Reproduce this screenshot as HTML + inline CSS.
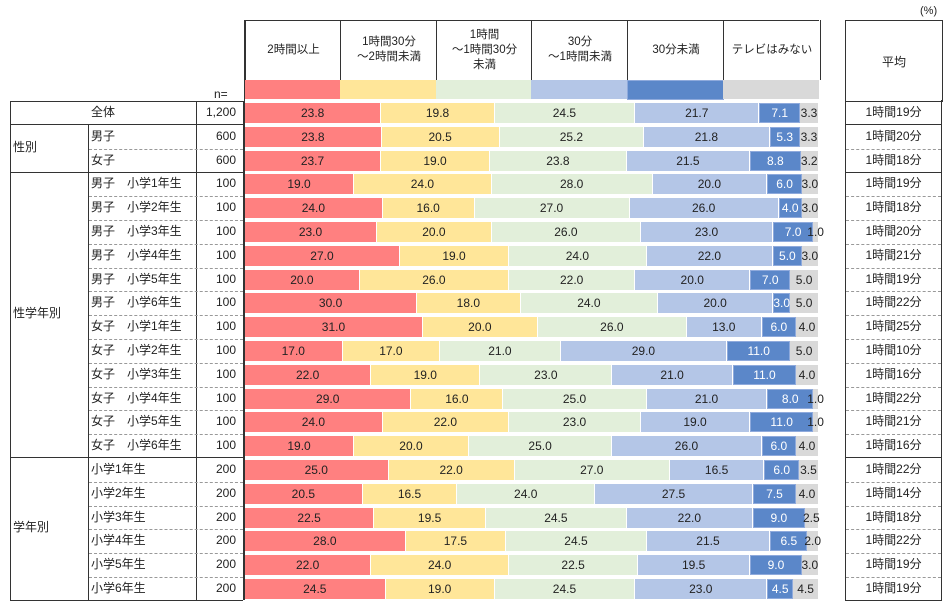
<!DOCTYPE html>
<html><head><meta charset="utf-8"><style>
body{margin:0;width:949px;height:608px;background:#fff;position:relative;font-family:"Liberation Sans","Noto Sans CJK JP",sans-serif;font-size:12px;color:#222;overflow:hidden}
.a{position:absolute}
.h{position:absolute;top:20px;height:60px;border-left:1px solid #333;display:flex;align-items:center;justify-content:center;text-align:center;line-height:15px;font-size:11.5px}
.bar{position:absolute;left:245px;width:574px;height:20px;display:flex}
.bar div{box-sizing:border-box;border-right:1px solid #fff;display:flex;align-items:center;justify-content:center;font-size:12px;white-space:nowrap;overflow:visible}
.r{background:#ff8080}.y{background:#ffe699}.g{background:#e2efda}.lb{background:#b4c6e7}.b{background:#5b87c9;color:#fff;border:1px solid #8faadc!important}.gr{background:#d9d9d9}
.line{position:absolute;height:0;border-top:1px solid #333}
.dl{position:absolute;height:0;border-top:1px dashed #999}
.vl{position:absolute;width:0;border-left:1px solid #333}
.t{position:absolute;height:23.8px;line-height:23.8px}
</style></head><body>
<div class="a" style="left:920px;top:5px;font-size:11px">(%)</div>
<div class="line" style="left:245px;top:20px;width:574px"></div>
<div class="h" style="left:245px;width:95px">2時間以上</div>
<div class="h" style="left:340px;width:96px">1時間30分<br>～2時間未満</div>
<div class="h" style="left:436px;width:95px">1時間<br>～1時間30分<br>未満</div>
<div class="h" style="left:531px;width:96px">30分<br>～1時間未満</div>
<div class="h" style="left:627px;width:96px">30分未満</div>
<div class="h" style="left:723px;width:96px;border-right:1px solid #333">テレビはみない</div>
<div class="a r" style="left:245px;top:80px;width:95px;height:19px"></div>
<div class="a y" style="left:340px;top:80px;width:96px;height:19px"></div>
<div class="a g" style="left:436px;top:80px;width:95px;height:19px"></div>
<div class="a lb" style="left:531px;top:80px;width:96px;height:19px"></div>
<div class="a" style="left:627px;top:80px;width:95px;height:18px;background:#5b87c9;border:1px solid #8faadc"></div>
<div class="a gr" style="left:723px;top:80px;width:96px;height:19px"></div>
<div class="a" style="left:214px;top:87px">n=</div>
<div class="a" style="left:845px;top:20px;width:96px;height:80px;border:1px solid #333;display:flex;align-items:center;justify-content:center">平均</div>
<div class="line" style="left:10px;top:101px;width:233px"></div>
<div class="line" style="left:10px;top:124px;width:233px"></div>
<div class="line" style="left:10px;top:172px;width:233px"></div>
<div class="line" style="left:10px;top:457px;width:233px"></div>
<div class="line" style="left:10px;top:600px;width:233px"></div>
<div class="vl" style="left:10px;top:101px;height:499px"></div>
<div class="vl" style="left:88px;top:124px;height:476px"></div>
<div class="vl" style="left:196px;top:101px;height:499px"></div>
<div class="vl" style="left:243px;top:101px;height:499px"></div>
<div class="vl" style="left:244px;top:20px;height:580px"></div>
<div class="line" style="left:845px;top:124px;width:97px"></div>
<div class="line" style="left:845px;top:172px;width:97px"></div>
<div class="line" style="left:845px;top:457px;width:97px"></div>
<div class="line" style="left:845px;top:600px;width:97px"></div>
<div class="vl" style="left:845px;top:100px;height:500px"></div>
<div class="vl" style="left:941px;top:100px;height:500px"></div>
<div class="t" style="left:10px;top:101px;width:186px;text-align:center">全体</div>
<div class="t" style="left:13px;top:136px">性別</div>
<div class="t" style="left:13px;top:302px">性学年別</div>
<div class="t" style="left:13px;top:516px">学年別</div>

<div id="rows"></div>
<script>
var d=[
["全体","1,200",[23.8,19.8,24.5,21.7,7.1,3.3],"1時間19分"],
["男子","600",[23.8,20.5,25.2,21.8,5.3,3.3],"1時間20分"],
["女子","600",[23.7,19.0,23.8,21.5,8.8,3.2],"1時間18分"],
["男子　小学1年生","100",[19,24,28,20,6,3],"1時間19分"],
["男子　小学2年生","100",[24,16,27,26,4,3],"1時間18分"],
["男子　小学3年生","100",[23,20,26,23,7,1],"1時間20分"],
["男子　小学4年生","100",[27,19,24,22,5,3],"1時間21分"],
["男子　小学5年生","100",[20,26,22,20,7,5],"1時間19分"],
["男子　小学6年生","100",[30,18,24,20,3,5],"1時間22分"],
["女子　小学1年生","100",[31,20,26,13,6,4],"1時間25分"],
["女子　小学2年生","100",[17,17,21,29,11,5],"1時間10分"],
["女子　小学3年生","100",[22,19,23,21,11,4],"1時間16分"],
["女子　小学4年生","100",[29,16,25,21,8,1],"1時間22分"],
["女子　小学5年生","100",[24,22,23,19,11,1],"1時間21分"],
["女子　小学6年生","100",[19,20,25,26,6,4],"1時間16分"],
["小学1年生","200",[25,22,27,16.5,6,3.5],"1時間22分"],
["小学2年生","200",[20.5,16.5,24,27.5,7.5,4],"1時間14分"],
["小学3年生","200",[22.5,19.5,24.5,22,9,2.5],"1時間18分"],
["小学4年生","200",[28,17.5,24.5,21.5,6.5,2],"1時間22分"],
["小学5年生","200",[22,24,22.5,19.5,9,3],"1時間19分"],
["小学6年生","200",[24.5,19,24.5,23,4.5,4.5],"1時間19分"]];
var c=["r","y","g","lb","b","gr"],h="";
d.forEach(function(r,i){var t=101+i*23.8;
var s=r[2].reduce(function(a,b){return a+b},0);
h+='<div class="bar" style="top:'+(t+2)+'px">';
r[2].forEach(function(v,j){h+='<div class="'+c[j]+'" style="width:'+(v/s*574)+'px">'+v.toFixed(1)+'</div>'});
h+='</div>';
if(i>0)h+='<div class="t" style="left:91px;top:'+t+'px">'+r[0]+'</div>';
h+='<div class="t" style="left:196px;width:40px;top:'+t+'px;text-align:right">'+r[1]+'</div>';
h+='<div class="t" style="left:845px;width:97px;top:'+t+'px;text-align:center">'+r[3]+'</div>';
if([2,4,5,6,7,8,9,10,11,12,13,14,16,17,18,19,20].indexOf(i)>=0){h+='<div class="dl" style="left:89px;top:'+t+'px;width:154px"></div><div class="dl" style="left:846px;top:'+t+'px;width:95px"></div>';}
});
document.getElementById("rows").innerHTML=h;
</script>
</body></html>
